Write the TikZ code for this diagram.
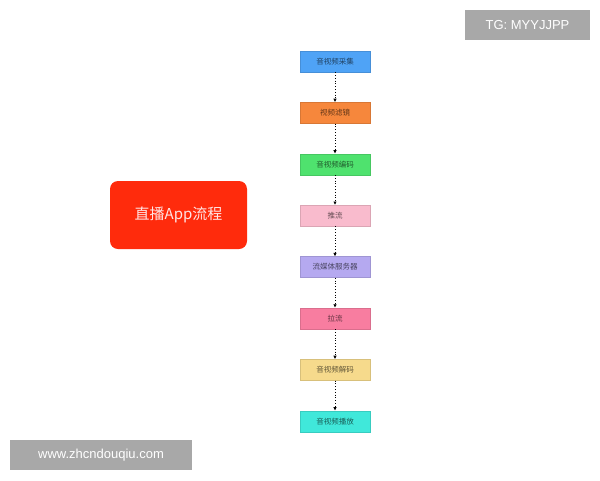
\documentclass[tikz,border=0pt]{standalone}
\usepackage{fontspec}
\newfontfamily\cjk{Noto Sans CJK SC}
\setmainfont{Liberation Sans}
\usetikzlibrary{positioning,arrows.meta}
\definecolor{cBlue}{HTML}{4FA3F6}
\definecolor{cOrange}{HTML}{F6873C}
\definecolor{cGreen}{HTML}{4FE26E}
\definecolor{cPink}{HTML}{F9BBCD}
\definecolor{cLilac}{HTML}{B5A9F0}
\definecolor{cRose}{HTML}{F87DA0}
\definecolor{cYellow}{HTML}{F6DA8C}
\definecolor{cCyan}{HTML}{40E8DA}
\definecolor{cRed}{HTML}{FF2B0C}
\definecolor{cMark}{HTML}{A8A8A8}
\tikzset{
  stage/.style={draw=#1!88!black, fill=#1, minimum width=70pt, minimum height=21pt,
    inner sep=0pt, font=\cjk\fontsize{7.5}{9}\selectfont, text=#1!40!black},
  flow/.style={dotted, thick, -{Latex[length=3.5pt,width=3.5pt]}},
  wmark/.style={fill=cMark, text=white, inner sep=0pt, font=\fontsize{13}{15}\selectfont}
}
\begin{document}
\begin{tikzpicture}[x=1pt, y=-1pt, node distance=30pt]
\useasboundingbox (0,0) rectangle (600,480);

% Title
\node[fill=cRed, rounded corners=8pt, minimum width=137pt, minimum height=68pt,
  text=white!90!red, font=\cjk\fontsize{15}{18}\selectfont] (title) at (178.5,215) {直播App流程};

% Stages
\node[stage=cBlue] (capture) at (335,61.5) {音视频采集};
\node[stage=cOrange, below=of capture] (filter) {视频滤镜};
\node[stage=cGreen, below=of filter] (encode) {音视频编码};
\node[stage=cPink, below=of encode] (push) {推流};
\node[stage=cLilac, below=of push] (server) {流媒体服务器};
\node[stage=cRose, below=of server] (pull) {拉流};
\node[stage=cYellow, below=of pull] (decode) {音视频解码};
\node[stage=cCyan, below=of decode] (play) {音视频播放};

% Arrows
\foreach \a/\b in {capture/filter, filter/encode, encode/push, push/server,
  server/pull, pull/decode, decode/play}
  \draw[flow] (\a) -- (\b);

% Watermarks
\node[wmark, minimum width=125pt, minimum height=30pt] (tg) at (527.5,25) {TG: MYYJJPP};
\node[wmark, minimum width=182pt, minimum height=30pt] (site) at (101,455) {www.zhcndouqiu.com};
\end{tikzpicture}
\end{document}
